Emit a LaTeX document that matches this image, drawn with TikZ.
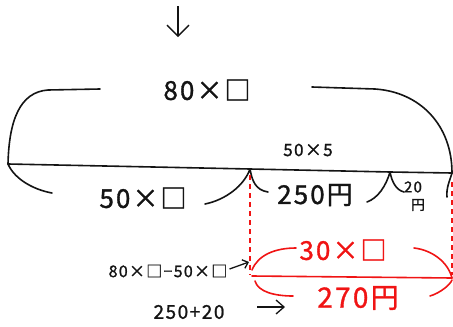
\documentclass[tikz,border=0pt]{standalone}
\usepackage{fontspec}
\setmainfont{Noto Sans CJK JP}[LetterSpace=8, FakeBold=1.2]
\usetikzlibrary{arrows.meta}
\definecolor{pen}{RGB}{20,20,20}
\definecolor{redpen}{RGB}{240,20,20}
\tikzset{
  ink/.style={draw=pen, line width=1.6pt, line cap=round, line join=round},
  redink/.style={draw=redpen, line width=1.6pt, line cap=round, line join=round},
  reddash/.style={draw=redpen, line width=1.2pt, dash pattern=on 5pt off 4pt},
  big/.style={font=\fontsize{26}{28}\selectfont, text=pen, inner sep=0pt},
  mid/.style={font=\fontsize{17}{19}\selectfont, text=pen, inner sep=0pt},
  bigred/.style={font=\fontsize{26}{28}\selectfont, text=redpen, inner sep=0pt},
  hand/.style={-{Straight Barb[length=8pt,width=14pt]}, draw=pen, line width=1.3pt}
}
\begin{document}
\begin{tikzpicture}[x=1pt,y=-1pt]
\useasboundingbox (0,0) rectangle (453,327);
% arrow at top
\coordinate (a1) at (178,6);
\coordinate (a2) at (178,37);
\draw[hand, -{Straight Barb[length=11pt,width=22pt]}] (a1) -- (a2);
% main line points
\coordinate (L) at (8,164);
\coordinate (M) at (250,169);
\coordinate (N) at (390,172);
\coordinate (R) at (452,173);
\draw[ink] (L) -- (M) -- (N) -- (R);
% top brace
\node[big] (top) at (207,90) {80×□};
\coordinate (tl) at (100,89);
\coordinate (tr) at (312,87);
\draw[ink] (tl) -- (48,90) .. controls (20,92) and (9,120) .. (L);
\draw[ink] (tr) -- (375,89) .. controls (420,92) and (452,125) .. (R);
\node[mid] (fx5) at (308,150) {50×5};
% lower braces
\node[big] (fx) at (143,198) {50×□};
\node[big] (t250) at (315,195) {250円};
\node[font=\fontsize{15}{15}\selectfont, text=pen, inner sep=0pt] (t20) at (413,187) {20};
\node[font=\fontsize{14}{14}\selectfont, text=pen, inner sep=0pt] (yen) at (418,205) {円};
\draw[ink] (L) .. controls (15,180) and (35,190) .. (52,193);
\draw[ink] (205,204) .. controls (225,200) and (244,186) .. (M) .. controls (252,180) and (255,190) .. (268,192);
\draw[ink] (367,202) .. controls (378,198) and (386,186) .. (N) .. controls (392,182) and (396,190) .. (404,192);
\draw[ink] (447,197) .. controls (446,188) and (450,180) .. (R);
% red part
\coordinate (d1) at (250,175);
\coordinate (d1b) at (250,275);
\coordinate (d2) at (452,182);
\coordinate (d2b) at (452,275);
\draw[reddash] (d1) -- (d1b);
\draw[reddash] (d2) -- (d2b);
\coordinate (rl) at (252,276);
\coordinate (rr) at (452,278);
\draw[redink] (rl) -- (rr);
\node[bigred] (t30) at (343,250) {30×□};
\node[bigred, font=\fontsize{28}{30}\selectfont] (t270) at (358,298) {270円};
\draw[redink] (252,270) .. controls (258,255) and (275,248) .. (296,248);
\draw[redink] (414,248) .. controls (432,250) and (448,262) .. (rr);
\draw[redink] (255,281) .. controls (258,292) and (275,296) .. (293,296);
\draw[redink] (430,296) .. controls (440,293) and (450,285) .. (452,280);
% black labels with arrows
\node[mid, font=\fontsize{16}{18}\selectfont] (diff) at (168,271) {80×□−50×□};
\coordinate (dA) at (249,262);
\draw[hand, -{Straight Barb[length=5pt,width=9pt]}] (diff.east) ++(2,-2) -- (dA);
\node[mid, font=\fontsize{19}{21}\selectfont] (sum) at (189,312) {250+20};
\coordinate (sA) at (257,307);
\coordinate (sB) at (285,307);
\draw[hand] (sA) -- (sB);
\end{tikzpicture}
\end{document}
